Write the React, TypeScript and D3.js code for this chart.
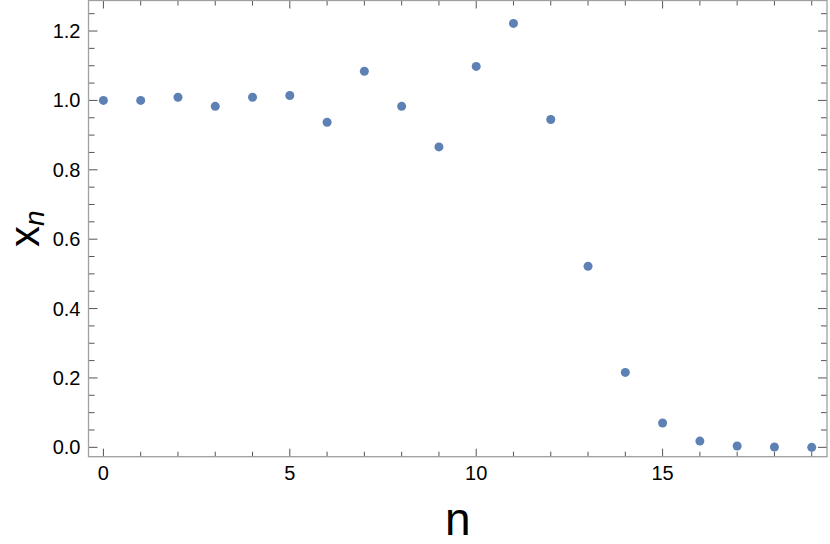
import React, { useEffect, useRef } from 'react';
import * as d3 from 'd3';

// sequence x_n
const nValues = [0, 1, 2, 3, 4, 5, 6, 7, 8, 9, 10, 11, 12, 13, 14, 15, 16, 17, 18, 19];
const xnValues = [
  1.0, 1.0, 1.009, 0.983, 1.009, 1.014, 0.937, 1.084, 0.983, 0.866,
  1.098, 1.222, 0.945, 0.522, 0.216, 0.07, 0.018, 0.004, 0.001, 0.0,
];
const xMajorTicks = [0, 5, 10, 15];
const yMajorTicks = [0, 0.2, 0.4, 0.6, 0.8, 1.0, 1.2];

const WIDTH = 830;
const HEIGHT = 544;

export default function App() {
  const svgRef = useRef<SVGSVGElement>(null);

  useEffect(() => {
    const svg = d3.select(svgRef.current);
    svg.selectAll('*').remove();

    const left = 88.5, right = 827, top = 0.5, bottom = 456.7;
    const x = d3.scaleLinear().domain([-0.4, 19.41]).range([left, right]);
    const y = d3.scaleLinear().domain([-0.027, 1.288]).range([bottom, top]);

    const font = 'Arial, "Liberation Sans", sans-serif';
    const tickColor = '#555';

    const xMinor = d3.range(0, 20).filter(v => !xMajorTicks.includes(v));
    const yMinor = d3.range(0, 26).map(i => +(i * 0.05).toFixed(2)).filter(v => !yMajorTicks.some(t => Math.abs(t - v) < 1e-6));

    const ticks = svg.append('g').attr('stroke', tickColor).attr('stroke-width', 1);
    // bottom and top ticks
    xMajorTicks.forEach(v => {
      ticks.append('line').attr('x1', x(v)).attr('x2', x(v)).attr('y1', bottom).attr('y2', bottom - 8);
      ticks.append('line').attr('x1', x(v)).attr('x2', x(v)).attr('y1', top).attr('y2', top + 8);
    });
    xMinor.forEach(v => {
      ticks.append('line').attr('x1', x(v)).attr('x2', x(v)).attr('y1', bottom).attr('y2', bottom - 5);
      ticks.append('line').attr('x1', x(v)).attr('x2', x(v)).attr('y1', top).attr('y2', top + 5);
    });
    // left and right ticks
    yMajorTicks.forEach(v => {
      ticks.append('line').attr('x1', left).attr('x2', left + 9).attr('y1', y(v)).attr('y2', y(v));
      ticks.append('line').attr('x1', right).attr('x2', right - 9).attr('y1', y(v)).attr('y2', y(v));
    });
    yMinor.forEach(v => {
      ticks.append('line').attr('x1', left).attr('x2', left + 6).attr('y1', y(v)).attr('y2', y(v));
      ticks.append('line').attr('x1', right).attr('x2', right - 6).attr('y1', y(v)).attr('y2', y(v));
    });

    // frame
    svg.append('rect')
      .attr('x', left).attr('y', top)
      .attr('width', right - left).attr('height', bottom - top)
      .attr('fill', 'none').attr('stroke', '#a0a0a0').attr('stroke-width', 1.3);

    // tick labels
    svg.append('g').selectAll('text')
      .data(xMajorTicks)
      .enter().append('text')
      .attr('x', d => x(d)).attr('y', 480)
      .attr('text-anchor', 'middle')
      .attr('font-family', font).attr('font-size', 20)
      .text(d => String(d));

    svg.append('g').selectAll('text')
      .data(yMajorTicks)
      .enter().append('text')
      .attr('x', 80.5).attr('y', d => y(d)).attr('dy', '0.35em')
      .attr('text-anchor', 'end')
      .attr('font-family', font).attr('font-size', 20)
      .text(d => d.toFixed(1));

    // points
    svg.append('g').selectAll('circle')
      .data(nValues)
      .enter().append('circle')
      .attr('cx', (d) => x(d))
      .attr('cy', (d, i) => y(xnValues[i]))
      .attr('r', 4.5)
      .attr('fill', '#5e81b5');

    // axis labels
    svg.append('text')
      .attr('x', (left + right) / 2).attr('y', 535)
      .attr('text-anchor', 'middle')
      .attr('font-family', font).attr('font-size', 46)
      .text('n');

    const yl = svg.append('text')
      .attr('transform', `translate(39,${(top + bottom) / 2}) rotate(-90)`)
      .attr('text-anchor', 'middle')
      .attr('font-family', font).attr('font-size', 42);
    yl.append('tspan').text('x');
    yl.append('tspan').attr('dy', 5).attr('font-size', 28).attr('font-style', 'italic').text('n');
  }, []);

  return <svg ref={svgRef} width={WIDTH} height={HEIGHT} style={{ display: 'block', position: 'absolute', left: 0, top: 0 }} />;
}
